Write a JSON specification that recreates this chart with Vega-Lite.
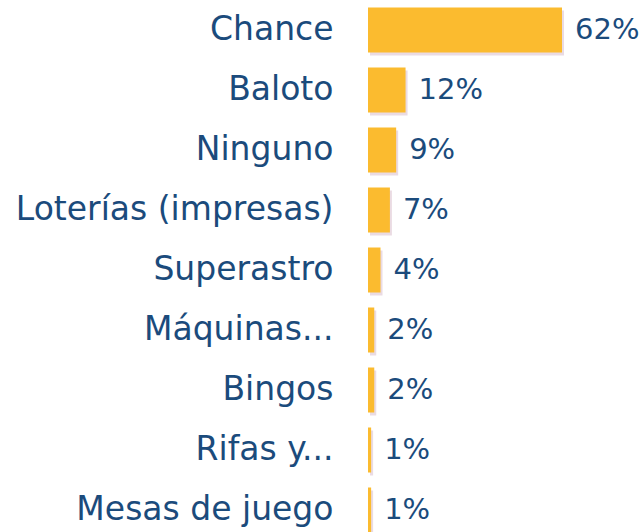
{
  "$schema": "https://vega.github.io/schema/vega-lite/v6.json",
  "autosize": {"type": "none"},
  "padding": {"left": 368, "top": 0, "right": 81, "bottom": 0},
  "width": 194,
  "height": 540,
  "background": "white",
  "config": {"view": {"stroke": null}},
  "data": {"values": [
    {"cat": "Chance", "pct": 0.62},
    {"cat": "Baloto", "pct": 0.12},
    {"cat": "Ninguno", "pct": 0.09},
    {"cat": "Loterías (impresas)", "pct": 0.07},
    {"cat": "Superastro", "pct": 0.04},
    {"cat": "Máquinas...", "pct": 0.02},
    {"cat": "Bingos", "pct": 0.02},
    {"cat": "Rifas y...", "pct": 0.01},
    {"cat": "Mesas de juego", "pct": 0.01}
  ]},
  "encoding": {
    "y": {"field": "cat", "type": "nominal", "sort": null,
      "scale": {"paddingInner": 0.25, "paddingOuter": 0.125},
      "axis": {"title": null, "ticks": false, "domain": false, "labelPadding": 35, "labelLimit": 400,
        "labelFont": "DejaVu Sans", "labelFontSize": 33, "labelColor": "#1b4b7c"}},
    "x": {"field": "pct", "type": "quantitative", "scale": {"domain": [0, 0.62], "nice": false}, "axis": null}
  },
  "layer": [
    {"mark": {"type": "bar", "color": "#eadbe3", "xOffset": 2, "yOffset": 3}},
    {"mark": {"type": "bar", "color": "#fbbb2f"}},
    {"mark": {"type": "text", "align": "left", "dx": 13, "font": "DejaVu Sans", "fontSize": 29, "color": "#1b4b7c"},
      "encoding": {"text": {"field": "pct", "type": "quantitative", "format": ".0%"}}}
  ]
}
